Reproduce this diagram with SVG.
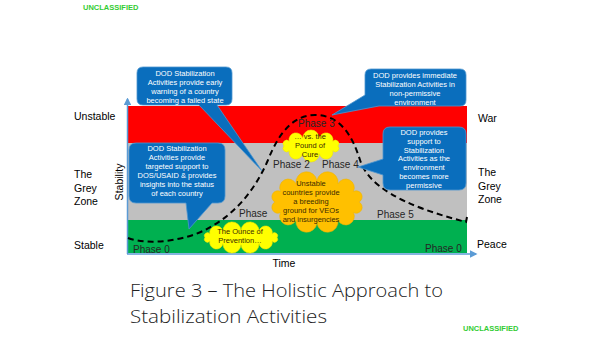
<svg xmlns="http://www.w3.org/2000/svg" width="600" height="337" viewBox="0 0 600 337">
<defs>
<style>
.lbl{font-family:"Liberation Sans",Arial,sans-serif;font-size:10.5px;fill:#000}
.ph{font-family:"Liberation Sans",Arial,sans-serif;font-size:10px;fill:#262626}
.co{font-family:"Liberation Sans",Arial,sans-serif;font-size:7.5px;fill:#fff;text-anchor:middle}
.cl{font-family:"Liberation Sans",Arial,sans-serif;font-size:7.5px;fill:#3a2a00;text-anchor:middle}
.unc{font-family:"Liberation Sans",Arial,sans-serif;font-size:7.5px;font-weight:bold;fill:#33cc33}
.callout{fill:#0A6EBD;stroke:#4D95CF;stroke-width:0.8}
.cloudY{fill:#FFFF00;stroke:#F2E600;stroke-width:0.6}
.cloudO{fill:#FFC000;stroke:#F0B400;stroke-width:0.6}
.axis{stroke:#5B9BD5;stroke-width:1.5;fill:none}
</style>
<marker id="ah" viewBox="0 0 10 10" refX="8" refY="5" markerWidth="5" markerHeight="5" orient="auto">
<path d="M0,0 L10,5 L0,10 Z" fill="#5B9BD5"/>
</marker>
</defs>
<rect width="600" height="337" fill="#fff"/>
<text class="unc" x="83" y="10">UNCLASSIFIED</text>
<text class="unc" x="463" y="331">UNCLASSIFIED</text>

<g id="bands">
<rect x="128" y="106" width="339" height="37" fill="#FF0000"/>
<rect x="128" y="143" width="339" height="77" fill="#C0C0C0"/>
<rect x="128" y="220" width="339" height="33" fill="#00B050"/>
</g>

<g id="labels">
<text class="lbl" x="74" y="120">Unstable</text>
<text class="lbl" x="74" y="178">The</text>
<text class="lbl" x="74" y="192">Grey</text>
<text class="lbl" x="74" y="205">Zone</text>
<text class="lbl" x="74" y="249">Stable</text>
<text class="lbl" x="478" y="122">War</text>
<text class="lbl" x="478" y="176">The</text>
<text class="lbl" x="478" y="190">Grey</text>
<text class="lbl" x="478" y="203">Zone</text>
<text class="lbl" x="477" y="248">Peace</text>
<text class="lbl" x="284" y="267" text-anchor="middle">Time</text>
<text class="lbl" transform="translate(123,182) rotate(-90)" text-anchor="middle">Stability</text>
</g>

<g id="connectors">
<line class="axis" x1="127.5" y1="254" x2="127.5" y2="99" marker-end="url(#ah)"/>
<line class="axis" x1="127" y1="254" x2="476" y2="254" marker-end="url(#ah)"/>
<path d="M128,238 C150,246 185,240 205,230 C235,215 255,190 268,160 C280,130 295,115 315,115 C340,115 352,135 360,160 C368,185 400,205 466,222 L467,217" fill="none" stroke="#000" stroke-width="2" stroke-dasharray="6,4"/>
</g>

<g id="cloud-cure">
<path class="cloudY" d="M338,146 A1,1 0 0 1 332.8,150.7 A1,1 0 0 1 319.3,153.7 A1,1 0 0 1 302.7,153.7 A1,1 0 0 1 289.2,150.7 A1,1 0 0 1 284,146 A1,1 0 0 1 289.2,141.3 A1,1 0 0 1 302.7,138.3 A1,1 0 0 1 319.3,138.3 A1,1 0 0 1 332.8,141.3 A1,1 0 0 1 338,146 Z"/>
<text class="cl" x="310" y="139">… vs. the</text>
<text class="cl" x="310" y="148">Pound of</text>
<text class="cl" x="310" y="157">Cure</text>
</g>

<g id="cloud-breeding">
<path class="cloudO" d="M359,202 A1,1 0 0 1 353.4,212.5 A1,1 0 0 1 338,220.2 A1,1 0 0 1 317,223 A1,1 0 0 1 296,220.2 A1,1 0 0 1 280.6,212.5 A1,1 0 0 1 275,202 A1,1 0 0 1 280.6,191.5 A1,1 0 0 1 296,183.8 A1,1 0 0 1 317,181 A1,1 0 0 1 338,183.8 A1,1 0 0 1 353.4,191.5 A1,1 0 0 1 359,202 Z"/>
<text class="cl" x="311" y="185.5">Unstable</text>
<text class="cl" x="311" y="194.5">countries provide</text>
<text class="cl" x="311" y="203.5">a breeding</text>
<text class="cl" x="311" y="212.5">ground for VEOs</text>
<text class="cl" x="311" y="221.5">and insurgencies</text>
</g>

<g id="cloud-ounce">
<path class="cloudY" d="M277,237.5 A1,1 0 0 1 272.2,241 A1,1 0 0 1 259,243.6 A1,1 0 0 1 241,244.5 A1,1 0 0 1 223,243.6 A1,1 0 0 1 209.8,241 A1,1 0 0 1 205,237.5 A1,1 0 0 1 209.8,234 A1,1 0 0 1 223,231.4 A1,1 0 0 1 241,230.5 A1,1 0 0 1 259,231.4 A1,1 0 0 1 272.2,234 A1,1 0 0 1 277,237.5 Z"/>
<text class="cl" x="240" y="234">The Ounce of</text>
<text class="cl" x="240" y="243">Prevention…</text>
</g>

<g id="phases">
<text class="ph" x="298" y="127">Phase 3</text>
<text class="ph" x="273" y="168">Phase 2</text>
<text class="ph" x="322" y="168">Phase 4</text>
<text class="ph" x="239" y="217">Phase</text>
<text class="ph" x="377" y="218">Phase 5</text>
<text class="ph" x="133" y="253">Phase 0</text>
<text class="ph" x="425" y="252">Phase 0</text>
</g>

<g id="callout-early">
<path class="callout" d="M143,67 H226 Q232,67 232,73 V99 Q232,105 226,105 H217 L262,171 L199,105 H143 Q137,105 137,99 V73 Q137,67 143,67 Z"/>
<text class="co" x="185" y="76">DOD Stabilization</text>
<text class="co" x="185" y="85">Activities provide early</text>
<text class="co" x="185" y="94">warning of a country</text>
<text class="co" x="185" y="103">becoming a failed state</text>
</g>

<g id="callout-targeted">
<path class="callout" d="M136,143 H218 Q225,143 225,150 V196 Q225,203 218,203 H212 L189,229 L186,203 H136 Q129,203 129,196 V150 Q129,143 136,143 Z"/>
<text class="co" x="177" y="151">DOD Stabilization</text>
<text class="co" x="177" y="160">Activities provide</text>
<text class="co" x="177" y="169">targeted support to</text>
<text class="co" x="177" y="178">DOS/USAID &amp; provides</text>
<text class="co" x="177" y="187">insights into the status</text>
<text class="co" x="177" y="196">of each country</text>
</g>

<g id="callout-immediate">
<path class="callout" d="M371,69 H460 Q466,69 466,75 V100 Q466,106 460,106 H379 L332,115 L365,95 V75 Q365,69 371,69 Z"/>
<text class="co" x="415" y="78">DOD provides immediate</text>
<text class="co" x="415" y="87">Stabilization Activities in</text>
<text class="co" x="415" y="96">non-permissive</text>
<text class="co" x="415" y="105">environment</text>
</g>

<g id="callout-support">
<path class="callout" d="M390,127 H459 Q466,127 466,134 V183 Q466,190 459,190 H390 Q383,190 383,183 V175 L358,167 L383,159 V134 Q383,127 390,127 Z"/>
<text class="co" x="424" y="135">DOD provides</text>
<text class="co" x="424" y="144">support to</text>
<text class="co" x="424" y="152.5">Stabilization</text>
<text class="co" x="424" y="161">Activities as the</text>
<text class="co" x="424" y="170">environment</text>
<text class="co" x="424" y="179">becomes more</text>
<text class="co" x="424" y="188">permissive</text>
</g>

<g id="title">
<text x="130" y="297" font-family="'Open Sans','Liberation Sans',sans-serif" font-weight="300" font-size="19" fill="#222" textLength="313" lengthAdjust="spacingAndGlyphs">Figure 3 – The Holistic Approach to</text>
<text x="130" y="323" font-family="'Open Sans','Liberation Sans',sans-serif" font-weight="300" font-size="19" fill="#222" textLength="197" lengthAdjust="spacingAndGlyphs">Stabilization Activities</text>
</g>
</svg>
